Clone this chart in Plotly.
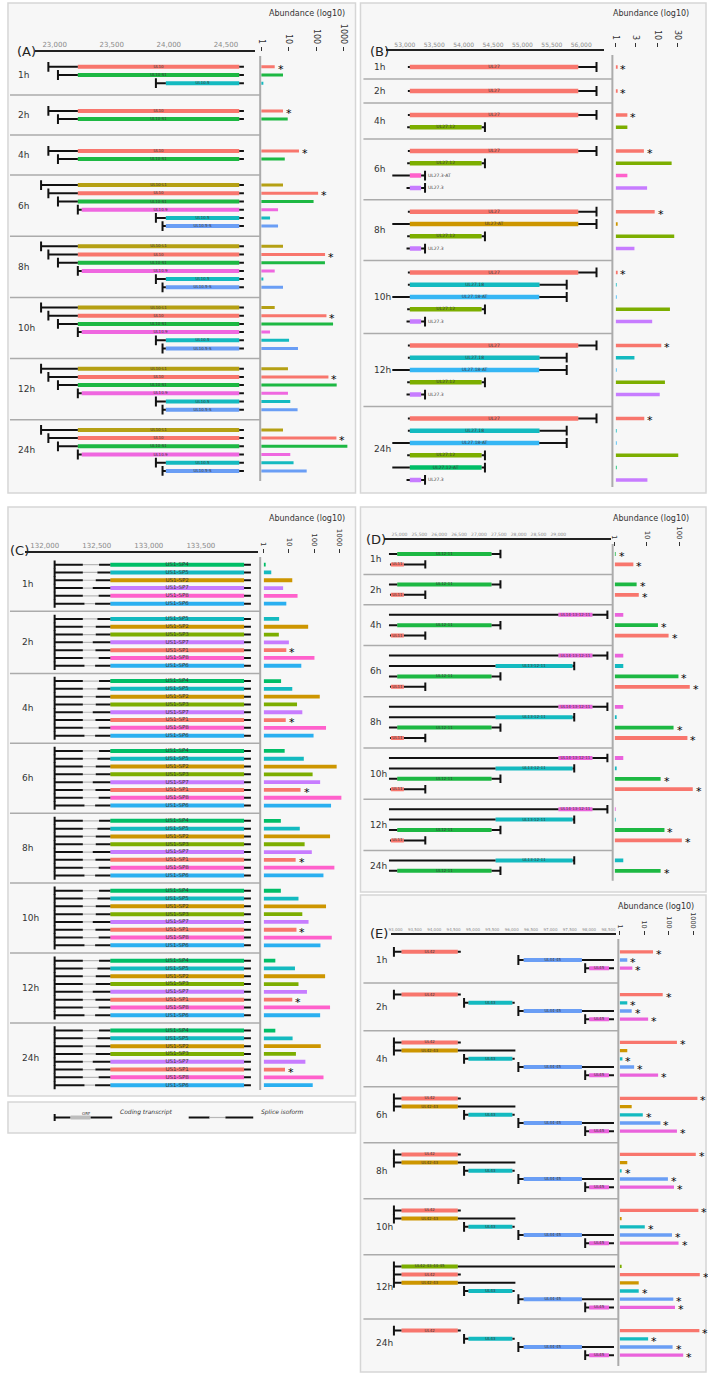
import math
import plotly.graph_objects as go

W, H = 708, 1374
FONT = "DejaVu Sans"

TIMES = ["1h", "2h", "4h", "6h", "8h", "10h", "12h", "24h"]

# ---- (A) UL10 locus
A_TX = ["UL10-L1", "UL10", "UL10-S1", "UL10.9", "UL10.5", "UL10.5-S"]
A_START = [22881, 22945, 23029, 23203, 23887, 23945]
A_CDS_START = [23203, 23203, 23203, 23237, 23974, 23974]
A_CDS_END = [24617, 24617, 24617, 24617, 24617, 24617]
A_END = [24658, 24658, 24658, 24658, 24658, 24658]
A_TICKS = [23000, 23500, 24000, 24500]
A_ROWS = [
    ["UL10", "UL10-S1", "UL10.5"],
    ["UL10", "UL10-S1"],
    ["UL10", "UL10-S1"],
    A_TX, A_TX, A_TX, A_TX, A_TX,
]
A_ABUND = [
    [3.1, 6.2, 1.2],
    [6.2, 9.2],
    [23.6, 7.2],
    [6.2, 117, 80, 4.1, 2.1, 4.1],
    [6.2, 209, 207, 3.1, 1.2, 6.2],
    [3.1, 235, 408, 2.1, 10.3, 21.7],
    [9.4, 277, 553, 9.4, 11.4, 21],
    [6.2, 540, 1350, 11.4, 15, 45],
]
A_SIG = [["UL10"]] * 8

# ---- (B) UL27 locus
B_TX = ["UL27", "UL27-AT", "UL27.18", "UL27.18-AT", "UL27.12", "UL27.12-AT", "UL27.3-AT", "UL27.3"]
B_START = [53051, 52786, 53051, 52786, 53039, 52786, 52786, 53028]
B_CDS_START = [53084, 53084, 53084, 53084, 53084, 53084, 53084, 53084]
B_CDS_END = [55950, 55950, 55291, 55286, 54306, 54306, 53276, 53276]
B_END = [56260, 56260, 55753, 55753, 54362, 54362, 53343, 53343]
B_TICKS = [53000, 53500, 54000, 54500, 55000, 55500, 56000]
B_LABEL_OUT = ["UL27.3-AT", "UL27.3"]
B_ROWS = [
    ["UL27"],
    ["UL27"],
    ["UL27", "UL27.12"],
    ["UL27", "UL27.12", "UL27.3-AT", "UL27.3"],
    ["UL27", "UL27-AT", "UL27.12", "UL27.3"],
    ["UL27", "UL27.18", "UL27.18-AT", "UL27.12", "UL27.3"],
    ["UL27", "UL27.18", "UL27.18-AT", "UL27.12", "UL27.3"],
    ["UL27", "UL27.18", "UL27.18-AT", "UL27.12", "UL27.12-AT", "UL27.3"],
]
B_ABUND = [
    [1.08],
    [1.08],
    [1.9, 1.9],
    [4.7, 21.5, 1.9, 5.6],
    [8.5, 1.08, 24.8, 2.8],
    [1.08, 1.05, 1.05, 19.6, 7.4],
    [12.2, 2.8, 1.05, 14.9, 11.2],
    [4.8, 1.05, 1.05, 30.9, 1.05, 5.7],
]
B_SIG = [["UL27"]] * 8

# ---- (C) US1 splice isoforms
C_TX = ["US1-SP4", "US1-SP5", "US1-SP2", "US1-SP3", "US1-SP7", "US1-SP1", "US1-SP8", "US1-SP6"]
C_START = [132095, 132095, 132095, 132095, 132095, 132095, 132095, 132095]
C_INTRON_START = [132366, 132366, 132366, 132366, 132366, 132366, 132366, 132382]
C_INTRON_END = [132522, 132506, 132490, 132490, 132461, 132487, 132518, 132484]
C_CDS_START = [132630, 132630, 132630, 132630, 132630, 132630, 132630, 132630]
C_CDS_END = [133915, 133915, 133915, 133915, 133915, 133915, 133915, 133915]
C_END = [133981, 133981, 133981, 133981, 133981, 133981, 133981, 133981]
C_TICKS = [132000, 132500, 133000, 133500]
C_ROWS = [
    ["US1-SP4", "US1-SP5", "US1-SP2", "US1-SP7", "US1-SP8", "US1-SP6"],
    ["US1-SP5", "US1-SP2", "US1-SP3", "US1-SP7", "US1-SP1", "US1-SP8", "US1-SP6"],
    C_TX, C_TX, C_TX, C_TX, C_TX, C_TX,
]
C_ABUND = [
    [1.1, 2.0, 13.6, 5.9, 22, 7.9],
    [4.1, 58, 4.0, 10, 7.9, 103, 31],
    [4.9, 13.6, 167, 21, 34, 7.5, 296, 95],
    [6.8, 39, 780, 87, 173, 29, 1200, 468],
    [4.8, 27, 427, 42, 81, 18.5, 634, 234],
    [4.8, 24, 296, 34, 60, 20, 500, 178],
    [2.9, 17.4, 272, 24, 52, 13.6, 427, 173],
    [2.9, 14, 183, 19, 45, 7, 235, 88],
]
C_SIG = [[], ["US1-SP1"], ["US1-SP1"], ["US1-SP1"], ["US1-SP1"], ["US1-SP1"], ["US1-SP1"], ["US1-SP1"]]

# ---- (D) UL11-UL14 locus
D_TX = ["UL14-13-12-11", "UL13-12-11", "UL12-11", "UL11"]
D_START = [24735, 24735, 24735, 24760]
D_CDS_START = [29000, 27418, 24943, 24785]
D_CDS_END = [29860, 29360, 27318, 25110]
D_END = [30235, 29400, 27542, 25650]
D_TICKS = [25000, 25500, 26000, 26500, 27000, 27500, 28000, 28500, 29000]
D_ROWS = [
    ["UL12-11", "UL11"],
    ["UL12-11", "UL11"],
    ["UL14-13-12-11", "UL12-11", "UL11"],
    D_TX, D_TX, D_TX, D_TX,
    ["UL13-12-11", "UL12-11"],
]
D_ABUND = [
    [1.07, 3.8],
    [4.8, 5.6],
    [1.85, 22, 47],
    [1.85, 1.85, 95, 213],
    [1.85, 1.1, 67, 180],
    [1.85, 1.1, 26.6, 264],
    [1.05, 1.05, 35, 121],
    [1.85, 26.6],
]
D_SIG = [["UL12-11", "UL11"]] * 8

# ---- (E) UL42-UL45 locus
E_TX = ["UL42-43-44-45", "UL42", "UL42-43", "UL43", "UL44-45", "UL45"]
E_START = [92959, 92959, 92959, 94770, 96172, 97897]
E_CDS_START = [93154, 93154, 93154, 94882, 96308, 98000]
E_CDS_END = [94608, 94608, 94608, 96018, 97813, 98513]
E_END = [98667, 94685, 96095, 96077, 98641, 98641]
E_TICKS = [93000, 93500, 94000, 94500, 95000, 95500, 96000, 96500, 97000, 97500, 98000, 98500]
E_ROWS = [
    ["UL42", "UL44-45", "UL45"],
    ["UL42", "UL43", "UL44-45", "UL45"],
    ["UL42", "UL42-43", "UL43", "UL44-45", "UL45"],
    ["UL42", "UL42-43", "UL43", "UL44-45", "UL45"],
    ["UL42", "UL42-43", "UL43", "UL44-45", "UL45"],
    ["UL42", "UL42-43", "UL43", "UL44-45", "UL45"],
    E_TX,
    ["UL42", "UL43", "UL44-45", "UL45"],
]
E_ABUND = [
    [23, 2.05, 3.3],
    [57, 2.05, 3.1, 14.5],
    [217, 2.05, 1.3, 3.9, 37],
    [1480, 3.1, 8.8, 46, 217],
    [1270, 2.05, 1.2, 93, 164],
    [1620, 1.15, 10.6, 136, 252],
    [1.15, 1850, 6.0, 6.0, 154, 180],
    [1780, 14.5, 144, 390],
]
E_SIG = [["UL42", "UL43", "UL44-45", "UL45"]] * 8

COLORS = {
    "UL10-L1": "#B5A014", "UL10": "#F8766D", "UL10-S1": "#1DB843", "UL10.9": "#EF67E0",
    "UL10.5": "#14BAC0", "UL10.5-S": "#6A9EF5",
    "UL27": "#F8766D", "UL27-AT": "#CD9600", "UL27.18": "#14BAC0", "UL27.18-AT": "#35B6F4",
    "UL27.12": "#7CAE00", "UL27.12-AT": "#00BE67", "UL27.3-AT": "#FF61CC", "UL27.3": "#C77CFF",
    "US1-SP4": "#00BE67", "US1-SP5": "#14BAC0", "US1-SP2": "#CD9600", "US1-SP3": "#7CAE00",
    "US1-SP7": "#C77CFF", "US1-SP1": "#F8766D", "US1-SP8": "#FF61CC", "US1-SP6": "#2AAFF0",
    "UL14-13-12-11": "#EA63DC", "UL13-12-11": "#14BAC0", "UL12-11": "#1DB843", "UL11": "#F8766D",
    "UL42-43-44-45": "#7CAE00", "UL42": "#F8766D", "UL42-43": "#CD9600", "UL43": "#14BAC0",
    "UL44-45": "#6A9EF5", "UL45": "#EA63DC",
}

# page geometry, in pixels of the 708x1374 page
PANELS = [
    dict(letter="(A)", tx=A_TX, start=A_START, cds0=A_CDS_START, cds1=A_CDS_END, end=A_END,
         rows=A_ROWS, abund=A_ABUND, sig=A_SIG, ticks=A_TICKS, ab_ticks=[1, 10, 100, 1000],
         box=(3, 353, 3, 493), gx=(30, 252), grange=(22826, 24757), axis_y=52, ab_axis_y=51,
         abx=(258, 352), abmax=3.39, first=55, pitch=8.2, pad=12, minh=40,
         bracket="start", bar_h=4, ab_h=3, brk=7, gfont=7, lblfont=4, abfont=8,
         time_x=11, letter_xy=(10, 51), title_xy=(304, 14), sep=(5, 257), div_x=257),
    dict(letter="(B)", tx=B_TX, start=B_START, cds0=B_CDS_START, cds1=B_CDS_END, end=B_END,
         rows=B_ROWS, abund=B_ABUND, sig=B_SIG, ticks=B_TICKS, ab_ticks=[1, 3, 10, 30],
         label_out=B_LABEL_OUT,
         box=(358, 706, 3, 493), gx=(383.3, 603.3), grange=(52672, 56388), axis_y=51, ab_axis_y=47,
         abx=(615, 703), abmax=2.08, first=55, pitch=12.3, pad=11.5, minh=24,
         bracket="end", bar_h=4.5, ab_h=3.5, brk=7, gfont=6, lblfont=4.5, abfont=8,
         time_x=370, letter_xy=(366, 51), title_xy=(651, 14), sep=(361, 612), div_x=611.7),
    dict(letter="(C)", tx=C_TX, start=C_START, cds0=C_CDS_START, cds1=C_CDS_END, end=C_END,
         intron0=C_INTRON_START, intron1=C_INTRON_END,
         rows=C_ROWS, abund=C_ABUND, sig=C_SIG, ticks=C_TICKS, ab_ticks=[1, 10, 100, 1000],
         box=(3, 353, 507, 1096), gx=(20, 255), grange=(131809, 134051), axis_y=553, ab_axis_y=553,
         abx=(260.5, 352), abmax=3.6, first=557, pitch=7.8, pad=7.5, minh=0,
         bracket="start", bar_h=4, ab_h=3.8, brk=6, gfont=7, lblfont=5.5, abfont=7,
         time_x=15, letter_xy=(3, 551), title_xy=(304, 519), sep=(5, 257), div_x=257),
    dict(letter="(D)", tx=D_TX, start=D_START, cds0=D_CDS_START, cds1=D_CDS_END, end=D_END,
         rows=D_ROWS, abund=D_ABUND, sig=D_SIG, ticks=D_TICKS, ab_ticks=[1, 10, 100],
         box=(358, 706, 507, 892), gx=(381.7, 610), grange=(24610, 30318), axis_y=540, ab_axis_y=546,
         abx=(614, 703), abmax=2.74, first=544, pitch=10.4, pad=9.6, minh=0,
         bracket="end", bar_h=4, ab_h=3.8, brk=6, gfont=4.5, lblfont=4, abfont=7,
         time_x=366, letter_xy=(362, 539), title_xy=(651, 519), sep=(361, 612), div_x=612),
    dict(letter="(E)", tx=E_TX, start=E_START, cds0=E_CDS_START, cds1=E_CDS_END, end=E_END,
         rows=E_ROWS, abund=E_ABUND, sig=E_SIG, ticks=E_TICKS, ab_ticks=[1, 10, 100, 1000],
         box=(358, 706, 895, 1372), gx=(388.3, 615), grange=(92872, 98684), axis_y=935, ab_axis_y=935,
         abx=(619, 704), abmax=3.44, first=937, pitch=8.2, pad=15, minh=46,
         bracket="start", bar_h=4, ab_h=3.3, brk=7, gfont=4, lblfont=4, abfont=6.5,
         time_x=372, letter_xy=(366, 933), title_xy=(656, 906), sep=(361, 618), div_x=617.7),
]
LEGEND_BOX = (3, 353, 1102, 1133)


def xp(p):
    return p / W


def yp(p):
    return 1 - p / H


def ax(prefix, i):
    return prefix if i == 1 else "%s%d" % (prefix, i)


def stack_rows(rows, first, pitch, pad, minh):
    bounds = [first]
    ys = []
    for names in rows:
        n = len(names)
        h = max(n * pitch + pad, minh)
        top = bounds[-1] + (h - n * pitch) / 2
        ys.append([top + (i + 0.5) * pitch for i in range(n)])
        bounds.append(bounds[-1] + h)
    return ys, bounds


fig = go.Figure()
shapes = []
annotations = []
layout_axes = {}

for k, P in enumerate(PANELS):
    gx, abx, ya = ax("x", 2 * k + 1), ax("x", 2 * k + 2), ax("y", k + 1)
    ys, bounds = stack_rows(P["rows"], P["first"], P["pitch"], P["pad"], P["minh"])
    idx = {n: i for i, n in enumerate(P["tx"])}
    ybot = P["box"][3] - 3

    seg_x, seg_y, intr_x, intr_y, brk_x, brk_y = [], [], [], [], [], []
    cds_base, cds_len, cds_y, cds_col = [], [], [], []
    lab_x, lab_y, lab_t, lab_pos = [], [], [], []
    ab_v, ab_y, ab_col = [], [], []
    for g, names in enumerate(P["rows"]):
        for r, name in enumerate(names):
            i = idx[name]
            y = ys[g][r]
            s, c0, c1, e = P["start"][i], P["cds0"][i], P["cds1"][i], P["end"][i]
            if "intron0" in P:
                i0, i1 = P["intron0"][i], P["intron1"][i]
                seg_x += [s, i0, None, i1, c0, None]
                seg_y += [y, y, None, y, y, None]
                intr_x += [i0, i1, None]
                intr_y += [y, y, None]
            else:
                seg_x += [s, c0, None]
                seg_y += [y, y, None]
            seg_x += [c1, e, None]
            seg_y += [y, y, None]
            brk_x.append(s if P["bracket"] == "start" else e)
            brk_y.append(y)
            cds_base.append(c0)
            cds_len.append(c1 - c0)
            cds_y.append(y)
            cds_col.append(COLORS[name])
            if name in P.get("label_out", []):
                lab_x.append(e)
                lab_t.append("  " + name)
                lab_pos.append("middle right")
            else:
                lab_x.append((c0 + c1) / 2)
                lab_t.append(name)
                lab_pos.append("middle center")
            lab_y.append(y)
            v = P["abund"][g][r]
            ab_v.append(v)
            ab_y.append(y)
            ab_col.append(COLORS[name])
            if name in P["sig"][g]:
                annotations.append(dict(x=math.log10(v), y=y, xref=abx, yref=ya, text="*",
                                        showarrow=False, xanchor="center", yanchor="middle",
                                        xshift=6, yshift=-2.5, font=dict(size=11, color="#000")))

    fig.add_trace(go.Bar(x=cds_len, base=cds_base, y=cds_y, orientation="h", width=P["bar_h"],
                         marker=dict(color=cds_col, line=dict(width=0)),
                         xaxis=gx, yaxis=ya, hoverinfo="skip"))
    if intr_x:
        fig.add_trace(go.Scatter(x=intr_x, y=intr_y, mode="lines", line=dict(color="#b8b8b8", width=1.2),
                                 xaxis=gx, yaxis=ya, hoverinfo="skip"))
    fig.add_trace(go.Scatter(x=seg_x, y=seg_y, mode="lines", line=dict(color="#111", width=2),
                             xaxis=gx, yaxis=ya, hoverinfo="skip"))
    fig.add_trace(go.Scatter(x=brk_x, y=brk_y, mode="markers",
                             marker=dict(symbol="line-ns", size=P["brk"], line=dict(width=2, color="#111")),
                             xaxis=gx, yaxis=ya, hoverinfo="skip"))
    fig.add_trace(go.Scatter(x=lab_x, y=lab_y, mode="text", text=lab_t, textposition=lab_pos,
                             textfont=dict(size=P["lblfont"], color="#3a3a3a", family=FONT),
                             cliponaxis=False, xaxis=gx, yaxis=ya, hoverinfo="skip"))
    fig.add_trace(go.Bar(x=[v - 1 for v in ab_v], base=[1] * len(ab_v), y=ab_y, orientation="h",
                         width=P["ab_h"], marker=dict(color=ab_col, line=dict(width=0)),
                         xaxis=abx, yaxis=ya, hoverinfo="skip"))

    layout_axes[ax("xaxis", 2 * k + 1)] = dict(
        domain=[xp(P["gx"][0]), xp(P["gx"][1])], range=list(P["grange"]), anchor=ya, side="top",
        showline=True, linecolor="#222", linewidth=2, showgrid=False, zeroline=False, ticks="",
        tickvals=P["ticks"], tickformat=",", tickfont=dict(size=P["gfont"], color="#8a8a8a"),
        fixedrange=True)
    layout_axes[ax("xaxis", 2 * k + 2)] = dict(
        domain=[xp(P["abx"][0]), xp(P["abx"][1])], type="log", range=[0, P["abmax"]],
        anchor="free", position=yp(P["ab_axis_y"]), side="top", showline=False, showgrid=False,
        zeroline=False, ticks="outside", ticklen=4, tickwidth=1, tickcolor="#333",
        tickvals=P["ab_ticks"], ticktext=[str(t) for t in P["ab_ticks"]],
        tickangle=90, tickfont=dict(size=P["abfont"], color="#333"), fixedrange=True)
    layout_axes[ax("yaxis", k + 1)] = dict(
        domain=[yp(ybot), yp(P["axis_y"])], range=[ybot, P["axis_y"]], anchor=gx, visible=False,
        fixedrange=True)

    # panel frame, group separators and divider
    x0, x1, y0, y1 = P["box"]
    shapes.append(dict(type="rect", xref="paper", yref="paper", x0=xp(x0), x1=xp(x1), y0=yp(y1), y1=yp(y0),
                       fillcolor="#f7f7f7", line=dict(color="#d6d6d6", width=1.5), layer="below"))
    for b in bounds[1:-1]:
        shapes.append(dict(type="line", xref="paper", yref=ya, x0=xp(P["sep"][0]), x1=xp(P["sep"][1]),
                           y0=b, y1=b, line=dict(color="#ababab", width=1.5)))
    shapes.append(dict(type="line", xref="paper", yref=ya, x0=xp(P["div_x"]), x1=xp(P["div_x"]),
                       y0=P["axis_y"] + 4, y1=min(bounds[-1], ybot - 3), line=dict(color="#ababab", width=2)))
    for g, t in enumerate(TIMES):
        annotations.append(dict(x=xp(P["time_x"]), y=(bounds[g] + bounds[g + 1]) / 2, xref="paper", yref=ya,
                                text=t, showarrow=False, xanchor="left", yanchor="middle",
                                font=dict(size=9, color="#333")))
    annotations.append(dict(x=xp(P["letter_xy"][0]), y=yp(P["letter_xy"][1]), xref="paper", yref="paper",
                            text=P["letter"], showarrow=False, xanchor="left", yanchor="middle",
                            font=dict(size=13, color="#222")))
    annotations.append(dict(x=xp(P["title_xy"][0]), y=yp(P["title_xy"][1]), xref="paper", yref="paper",
                            text="Abundance (log10)", showarrow=False, xanchor="center", yanchor="middle",
                            font=dict(size=8, color="#333")))

# key box under panel C
lx0, lx1, ly0, ly1 = LEGEND_BOX
ly = (ly0 + ly1) / 2
shapes.append(dict(type="rect", xref="paper", yref="paper", x0=xp(lx0), x1=xp(lx1), y0=yp(ly1), y1=yp(ly0),
                   fillcolor="#f7f7f7", line=dict(color="#d6d6d6", width=1.5), layer="below"))
for a, b, w, c in [(50, 66, 2, "#111"), (86, 108, 2, "#111"), (185, 206, 2, "#111"),
                   (206, 222, 1.2, "#b8b8b8"), (222, 250, 2, "#111")]:
    shapes.append(dict(type="line", xref="paper", yref="paper", x0=xp(a), x1=xp(b), y0=yp(ly), y1=yp(ly),
                       line=dict(color=c, width=w)))
shapes.append(dict(type="line", xref="paper", yref="paper", x0=xp(50), x1=xp(50), y0=yp(ly - 3.5),
                   y1=yp(ly + 3.5), line=dict(color="#111", width=2)))
shapes.append(dict(type="rect", xref="paper", yref="paper", x0=xp(66), x1=xp(86), y0=yp(ly + 2),
                   y1=yp(ly - 2), fillcolor="#bdbdbd", line=dict(width=0)))
annotations.append(dict(x=xp(76), y=yp(ly), xref="paper", yref="paper", text="ORF", showarrow=False,
                        font=dict(size=4, color="#333")))
annotations.append(dict(x=xp(114), y=yp(ly), xref="paper", yref="paper", text="<i>Coding transcript</i>",
                        showarrow=False, xanchor="left", font=dict(size=6, color="#333")))
annotations.append(dict(x=xp(256), y=yp(ly), xref="paper", yref="paper", text="<i>Splice isoform</i>",
                        showarrow=False, xanchor="left", font=dict(size=6, color="#333")))

fig.update_layout(width=W, height=H, margin=dict(l=0, r=0, t=0, b=0), paper_bgcolor="white",
                  plot_bgcolor="rgba(0,0,0,0)", showlegend=False, barmode="overlay",
                  font=dict(family=FONT, color="#333"), shapes=shapes, annotations=annotations,
                  **layout_axes)
fig.write_html("out.html", config={"displayModeBar": False},
               post_script="document.body.style.margin='0';")
